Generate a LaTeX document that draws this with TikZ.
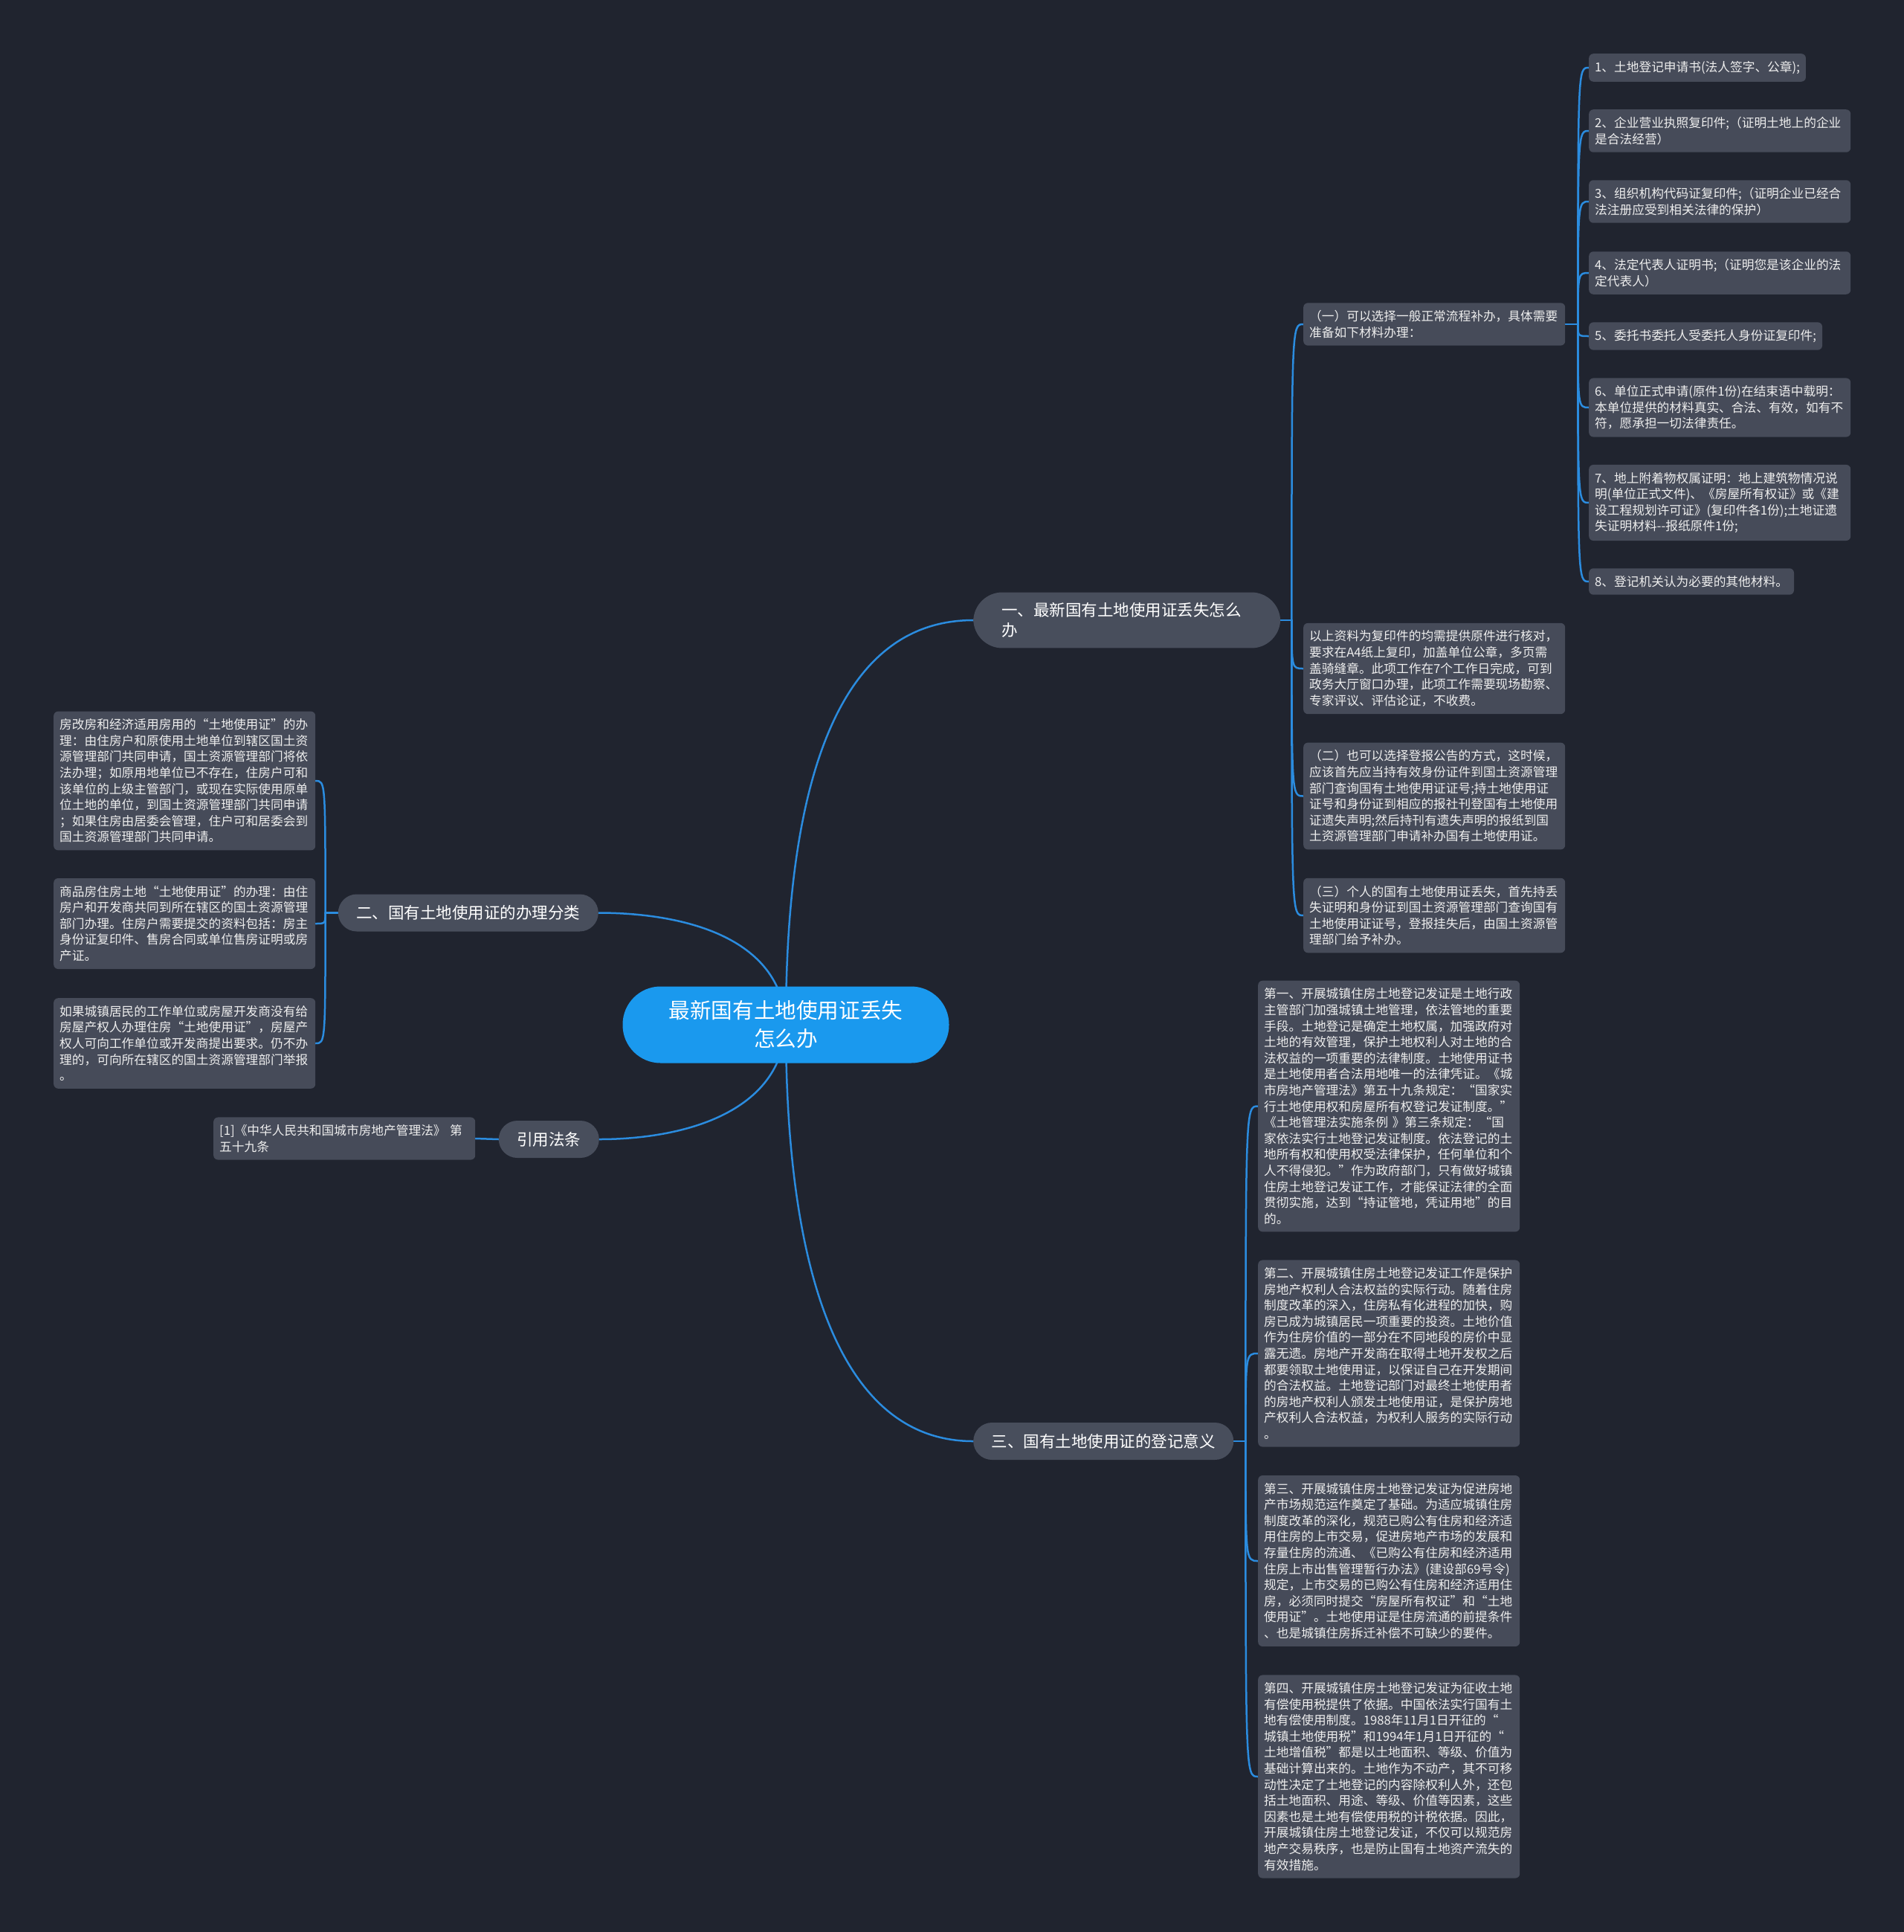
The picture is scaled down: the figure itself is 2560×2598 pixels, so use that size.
\documentclass[tikz,border=0pt]{standalone}
\usepackage{fontspec}
\setmainfont{Noto Sans CJK SC}
\usetikzlibrary{backgrounds}

\begin{document}
\begin{tikzpicture}[x=1pt, y=-1pt,
    leaf/.style={fill=boxColour, rounded corners=6pt, text=textColour, inner xsep=8pt, inner ysep=10pt, font=\fontsize{16.7}{21.6}\selectfont, align=left},
    wideleaf/.style={leaf, text width=336pt},
    branch/.style={fill=branchColour, rounded corners=25pt, text=white, inner xsep=24.5pt, minimum height=50pt, font=\fontsize{21.5}{27}\selectfont},
    link/.style={draw=lineColour, line width=2.5pt, line cap=round}]

    \definecolor{bgColour}{HTML}{20242F}
    \definecolor{boxColour}{HTML}{464B59}
    \definecolor{branchColour}{HTML}{484E5C}
    \definecolor{rootColour}{HTML}{1A99EE}
    \definecolor{lineColour}{HTML}{2B8CDF}
    \definecolor{textColour}{HTML}{EEEEEE}

    \useasboundingbox (0,0) rectangle (2560,2598);

    % Root and main branches
    \node[fill=rootColour, rounded corners=51pt, text=white, minimum width=439pt, minimum height=103pt, align=center, font=\fontsize{28.6}{38}\selectfont] (root) at (1057,1378) {最新国有土地使用证丢失\\怎么办};
    \node[branch, anchor=west, text width=337pt, align=left, inner xsep=38pt, inner ysep=14pt, rounded corners=39pt] (lost) at (1309,834) {一、最新国有土地使用证丢失怎么\\办};
    \node[branch, anchor=east] (kinds) at (805,1227.5) {二、国有土地使用证的办理分类};
    \node[branch, anchor=east] (law) at (806,1532) {引用法条};
    \node[branch, anchor=west] (sense) at (1309,1938) {三、国有土地使用证的登记意义};

    % Branch one: ways to reissue
    \node[wideleaf, anchor=west] (lostA) at (1753,436) {（一）可以选择一般正常流程补办，具体需要\\准备如下材料办理：};
    \node[wideleaf, anchor=west] (lostB) at (1753,899) {以上资料为复印件的均需提供原件进行核对，\\要求在A4纸上复印，加盖单位公章，多页需\\盖骑缝章。此项工作在7个工作日完成，可到\\政务大厅窗口办理，此项工作需要现场勘察、\\专家评议、评估论证，不收费。};
    \node[wideleaf, anchor=west] (lostC) at (1753,1070.5) {（二）也可以选择登报公告的方式，这时候，\\应该首先应当持有效身份证件到国土资源管理\\部门查询国有土地使用证证号;持土地使用证\\证号和身份证到相应的报社刊登国有土地使用\\证遗失声明;然后持刊有遗失声明的报纸到国\\土资源管理部门申请补办国有土地使用证。};
    \node[wideleaf, anchor=west] (lostD) at (1753,1231) {（三）个人的国有土地使用证丢失，首先持丢\\失证明和身份证到国土资源管理部门查询国有\\土地使用证证号，登报挂失后，由国土资源管\\理部门给予补办。};

    % Materials list
    \node[leaf, anchor=west] (item1) at (2137,91) {1、土地登记申请书(法人签字、公章);};
    \node[wideleaf, anchor=west] (item2) at (2137,176) {2、企业营业执照复印件;（证明土地上的企业\\是合法经营）};
    \node[wideleaf, anchor=west] (item3) at (2137,271) {3、组织机构代码证复印件;（证明企业已经合\\法注册应受到相关法律的保护）};
    \node[wideleaf, anchor=west] (item4) at (2137,367) {4、法定代表人证明书;（证明您是该企业的法\\定代表人）};
    \node[leaf, anchor=west] (item5) at (2137,452) {5、委托书委托人受委托人身份证复印件;};
    \node[wideleaf, anchor=west] (item6) at (2137,548) {6、单位正式申请(原件1份)在结束语中载明：\\本单位提供的材料真实、合法、有效，如有不\\符，愿承担一切法律责任。};
    \node[wideleaf, anchor=west] (item7) at (2137,676) {7、地上附着物权属证明：地上建筑物情况说\\明(单位正式文件)、《房屋所有权证》或《建\\设工程规划许可证》(复印件各1份);土地证遗\\失证明材料-{}-报纸原件1份;};
    \node[leaf, anchor=west] (item8) at (2137,782) {8、登记机关认为必要的其他材料。};

    % Branch two: kinds
    \node[wideleaf, anchor=west] (kindA) at (72,1050) {房改房和经济适用房用的“土地使用证”的办\\理：由住房户和原使用土地单位到辖区国土资\\源管理部门共同申请，国土资源管理部门将依\\法办理；如原用地单位已不存在，住房户可和\\该单位的上级主管部门，或现在实际使用原单\\位土地的单位，到国土资源管理部门共同申请\\；如果住房由居委会管理，住户可和居委会到\\国土资源管理部门共同申请。};
    \node[wideleaf, anchor=west] (kindB) at (72,1242) {商品房住房土地“土地使用证”的办理：由住\\房户和开发商共同到所在辖区的国土资源管理\\部门办理。住房户需要提交的资料包括：房主\\身份证复印件、售房合同或单位售房证明或房\\产证。};
    \node[wideleaf, anchor=west] (kindC) at (72,1403) {如果城镇居民的工作单位或房屋开发商没有给\\房屋产权人办理住房“土地使用证”，房屋产\\权人可向工作单位或开发商提出要求。仍不办\\理的，可向所在辖区的国土资源管理部门举报\\。};

    % Cited law
    \node[wideleaf, anchor=west] (lawA) at (287,1531) {[1]《中华人民共和国城市房地产管理法》 第\\五十九条};

    % Branch three: meaning
    \node[wideleaf, anchor=west] (senseA) at (1692,1487.5) {第一、开展城镇住房土地登记发证是土地行政\\主管部门加强城镇土地管理，依法管地的重要\\手段。土地登记是确定土地权属，加强政府对\\土地的有效管理，保护土地权利人对土地的合\\法权益的一项重要的法律制度。土地使用证书\\是土地使用者合法用地唯一的法律凭证。《城\\市房地产管理法》第五十九条规定：“国家实\\行土地使用权和房屋所有权登记发证制度。”\\《土地管理法实施条例 》第三条规定：“国\\家依法实行土地登记发证制度。依法登记的土\\地所有权和使用权受法律保护，任何单位和个\\人不得侵犯。”作为政府部门，只有做好城镇\\住房土地登记发证工作，才能保证法律的全面\\贯彻实施，达到“持证管地，凭证用地”的目\\的。};
    \node[wideleaf, anchor=west] (senseB) at (1692,1820) {第二、开展城镇住房土地登记发证工作是保护\\房地产权利人合法权益的实际行动。随着住房\\制度改革的深入，住房私有化进程的加快，购\\房已成为城镇居民一项重要的投资。土地价值\\作为住房价值的一部分在不同地段的房价中显\\露无遗。房地产开发商在取得土地开发权之后\\都要领取土地使用证，以保证自己在开发期间\\的合法权益。土地登记部门对最终土地使用者\\的房地产权利人颁发土地使用证，是保护房地\\产权利人合法权益，为权利人服务的实际行动\\。};
    \node[wideleaf, anchor=west] (senseC) at (1692,2099) {第三、开展城镇住房土地登记发证为促进房地\\产市场规范运作奠定了基础。为适应城镇住房\\制度改革的深化，规范已购公有住房和经济适\\用住房的上市交易，促进房地产市场的发展和\\存量住房的流通、《已购公有住房和经济适用\\住房上市出售管理暂行办法》(建设部69号令)\\规定，上市交易的已购公有住房和经济适用住\\房，必须同时提交“房屋所有权证”和“土地\\使用证”。土地使用证是住房流通的前提条件\\、也是城镇住房拆迁补偿不可缺少的要件。};
    \node[wideleaf, anchor=west] (senseD) at (1692,2389) {第四、开展城镇住房土地登记发证为征收土地\\有偿使用税提供了依据。中国依法实行国有土\\地有偿使用制度。1988年11月1日开征的“\\城镇土地使用税”和1994年1月1日开征的“\\土地增值税”都是以土地面积、等级、价值为\\基础计算出来的。土地作为不动产，其不可移\\动性决定了土地登记的内容除权利人外，还包\\括土地面积、用途、等级、价值等因素，这些\\因素也是土地有偿使用税的计税依据。因此，\\开展城镇住房土地登记发证，不仅可以规范房\\地产交易秩序，也是防止国有土地资产流失的\\有效措施。};

    % Junctions of the brackets
    \coordinate (lostJ) at ([xshift=15pt]lost.east);
    \coordinate (itemJ) at ([xshift=17pt]lostA.east);
    \coordinate (kindJ) at ([xshift=-17pt]kinds.west);
    \coordinate (senseJ) at ([xshift=16pt]sense.east);

    \begin{pgfonlayer}{background}
        % Draw background
        \fill[bgColour] (-10,-10) rectangle (2570,2608);

        % Draw root connectors
        \draw[link] (root.center) .. controls +(0,-330) and +(-180,0) .. (lost.west);
        \draw[link] (root.center) .. controls +(-5,-120) and +(110,0) .. (kinds.east);
        \draw[link] (root.center) .. controls +(-5,120) and +(110,0) .. (law.east);
        \draw[link] (root.center) .. controls +(0,330) and +(-180,0) .. (sense.west);

        % Draw brackets
        \draw[link] (lost.east) -- (lostJ);
        \foreach \n in {lostA,lostB,lostC,lostD}
            \draw[link] (lostJ) .. controls (lostJ |- \n.west) .. (\n.west);
        \draw[link] (lostA.east) -- (itemJ);
        \foreach \i in {1,...,8}
            \draw[link] (itemJ) .. controls (itemJ |- item\i.west) .. (item\i.west);
        \draw[link] (kinds.west) -- (kindJ);
        \foreach \n in {kindA,kindB,kindC}
            \draw[link] (kindJ) .. controls (kindJ |- \n.east) .. (\n.east);
        \draw[link] (law.west) -- (lawA.east);
        \draw[link] (sense.east) -- (senseJ);
        \foreach \n in {senseA,senseB,senseC,senseD}
            \draw[link] (senseJ) .. controls (senseJ |- \n.west) .. (\n.west);
    \end{pgfonlayer}

\end{tikzpicture}
\end{document}
